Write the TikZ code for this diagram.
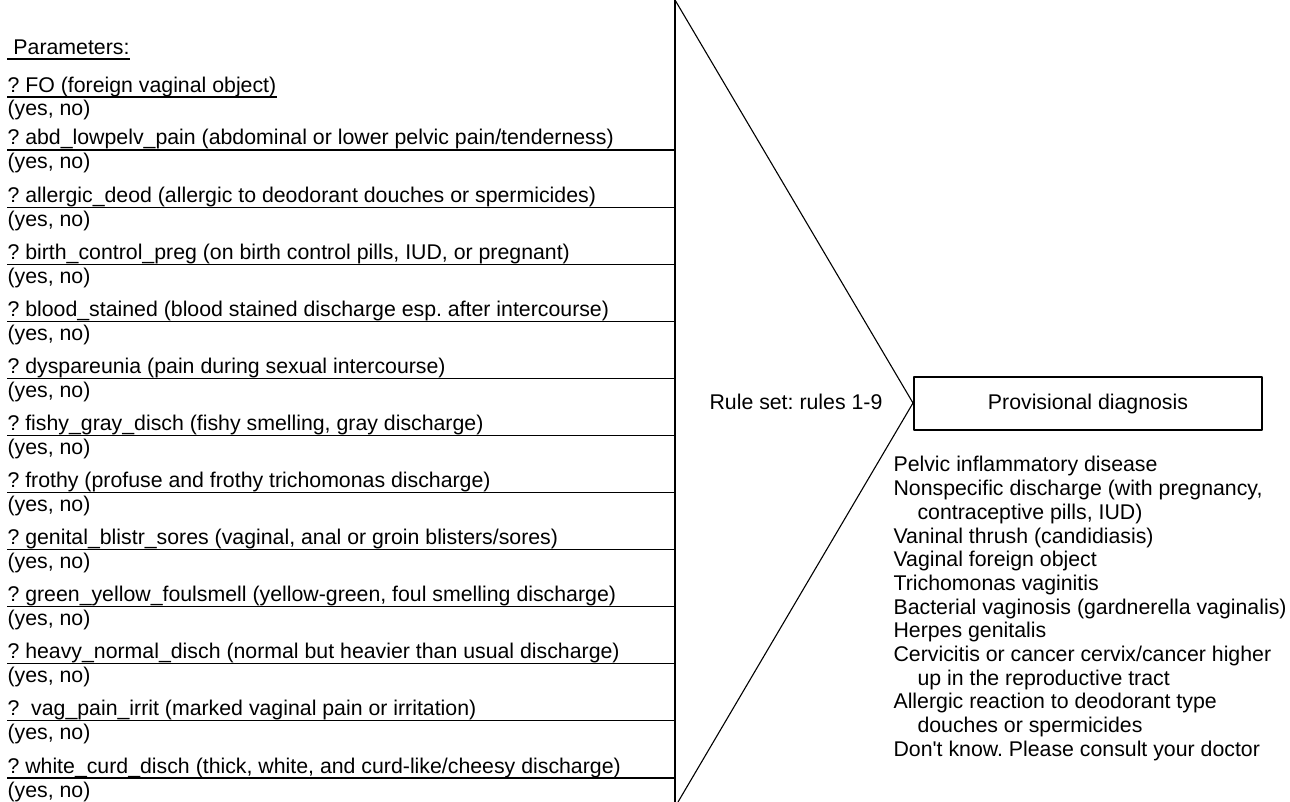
\documentclass[tikz,border=0pt]{standalone}
\usepackage{fontspec}
\setmainfont{Liberation Sans}
\frenchspacing
\begin{document}
\begin{tikzpicture}[>=latex,line join=bevel,line width=1.1bp,
  txt/.style={anchor=base west,inner sep=0pt,font=\fontsize{21.3bp}{26bp}\selectfont}]
\useasboundingbox (0bp,0bp) rectangle (1290bp,802bp);
%%
\node (param_head) at (7bp,747bp) [txt] {\ Parameters:};
\draw [black] ([yshift=-4bp]param_head.base west) -- ([yshift=-4bp]param_head.base east);
%
\node (param_fo) at (7bp,709bp) [txt] {? FO (foreign vaginal object)};
\node (value_fo) at (7bp,686bp) [txt] {(yes, no)};
\draw [black] ([yshift=-4bp]param_fo.base west) -- ([yshift=-4bp]param_fo.base east);
%
\node (param_0) at (7bp,657bp) [txt] {? abd\_lowpelv\_pain (abdominal or lower pelvic pain/tenderness)};
\node (value_0) at (7bp,633bp) [txt] {(yes, no)};
\node (param_1) at (7bp,599.9bp) [txt] {? allergic\_deod (allergic to deodorant douches or spermicides)};
\node (value_1) at (7bp,575.9bp) [txt] {(yes, no)};
\node (param_2) at (7bp,542.8bp) [txt] {? birth\_control\_preg (on birth control pills, IUD, or pregnant)};
\node (value_2) at (7bp,518.8bp) [txt] {(yes, no)};
\node (param_3) at (7bp,485.7bp) [txt] {? blood\_stained (blood stained discharge esp. after intercourse)};
\node (value_3) at (7bp,461.7bp) [txt] {(yes, no)};
\node (param_4) at (7bp,428.6bp) [txt] {? dyspareunia (pain during sexual intercourse)};
\node (value_4) at (7bp,404.6bp) [txt] {(yes, no)};
\node (param_5) at (7bp,371.5bp) [txt] {? fishy\_gray\_disch (fishy smelling, gray discharge)};
\node (value_5) at (7bp,347.5bp) [txt] {(yes, no)};
\node (param_6) at (7bp,314.5bp) [txt] {? frothy (profuse and frothy trichomonas discharge)};
\node (value_6) at (7bp,290.5bp) [txt] {(yes, no)};
\node (param_7) at (7bp,257.4bp) [txt] {? genital\_blistr\_sores (vaginal, anal or groin blisters/sores)};
\node (value_7) at (7bp,233.4bp) [txt] {(yes, no)};
\node (param_8) at (7bp,200.3bp) [txt] {? green\_yellow\_foulsmell (yellow-green, foul smelling discharge)};
\node (value_8) at (7bp,176.3bp) [txt] {(yes, no)};
\node (param_9) at (7bp,143.2bp) [txt] {? heavy\_normal\_disch (normal but heavier than usual discharge)};
\node (value_9) at (7bp,119.2bp) [txt] {(yes, no)};
\node (param_10) at (7bp,86.1bp) [txt] {?\ \ vag\_pain\_irrit (marked vaginal pain or irritation)};
\node (value_10) at (7bp,62.1bp) [txt] {(yes, no)};
\node (param_11) at (7bp,29bp) [txt] {? white\_curd\_disch (thick, white, and curd-like/cheesy discharge)};
\node (value_11) at (7bp,5bp) [txt] {(yes, no)};
%
\draw [black] (7bp,652bp) -- (675bp,652bp);
\draw [black] (7bp,594.9bp) -- (675bp,594.9bp);
\draw [black] (7bp,537.8bp) -- (675bp,537.8bp);
\draw [black] (7bp,480.7bp) -- (675bp,480.7bp);
\draw [black] (7bp,423.6bp) -- (675bp,423.6bp);
\draw [black] (7bp,366.5bp) -- (675bp,366.5bp);
\draw [black] (7bp,309.5bp) -- (675bp,309.5bp);
\draw [black] (7bp,252.4bp) -- (675bp,252.4bp);
\draw [black] (7bp,195.3bp) -- (675bp,195.3bp);
\draw [black] (7bp,138.2bp) -- (675bp,138.2bp);
\draw [black] (7bp,81.1bp) -- (675bp,81.1bp);
\draw [black] (7bp,24bp) -- (675bp,24bp);
%
\coordinate (rule_top) at (675bp,802bp);
\coordinate (rule_bot) at (675bp,0bp);
\coordinate (rule_apex) at (913bp,399bp);
\coordinate (rule_end) at (678bp,0bp);
\draw [black] (rule_top) -- (rule_bot);
\draw [black] (rule_top) -- (rule_apex) -- (rule_end);
\node (rule_set) at (709bp,392bp) [txt] {Rule set: rules 1-9};
%
\node (diag_box) at (1088bp,398.5bp) [draw=black,minimum width=348bp,minimum height=53bp,inner sep=0pt,font=\fontsize{21.3bp}{26bp}\selectfont] {Provisional diagnosis};
%
\node (diag_0) at (893bp,330bp) [txt] {Pelvic inflammatory disease};
\node (diag_1) at (893bp,306.3bp) [txt] {Nonspecific discharge (with pregnancy,};
\node (diag_2) at (917bp,282.6bp) [txt] {contraceptive pills, IUD)};
\node (diag_3) at (893bp,258.9bp) [txt] {Vaninal thrush (candidiasis)};
\node (diag_4) at (893bp,235.2bp) [txt] {Vaginal foreign object};
\node (diag_5) at (893bp,211.5bp) [txt] {Trichomonas vaginitis};
\node (diag_6) at (893bp,187.8bp) [txt] {Bacterial vaginosis (gardnerella vaginalis)};
\node (diag_7) at (893bp,164.1bp) [txt] {Herpes genitalis};
\node (diag_8) at (893bp,140.4bp) [txt] {Cervicitis or cancer cervix/cancer higher};
\node (diag_9) at (917bp,116.7bp) [txt] {up in the reproductive tract};
\node (diag_10) at (893bp,93bp) [txt] {Allergic reaction to deodorant type};
\node (diag_11) at (917bp,69.3bp) [txt] {douches or spermicides};
\node (diag_12) at (893bp,45.6bp) [txt] {Don\XeTeXglyph\XeTeXcharglyph"27 t know. Please consult your doctor};
%
\end{tikzpicture}
\end{document}
